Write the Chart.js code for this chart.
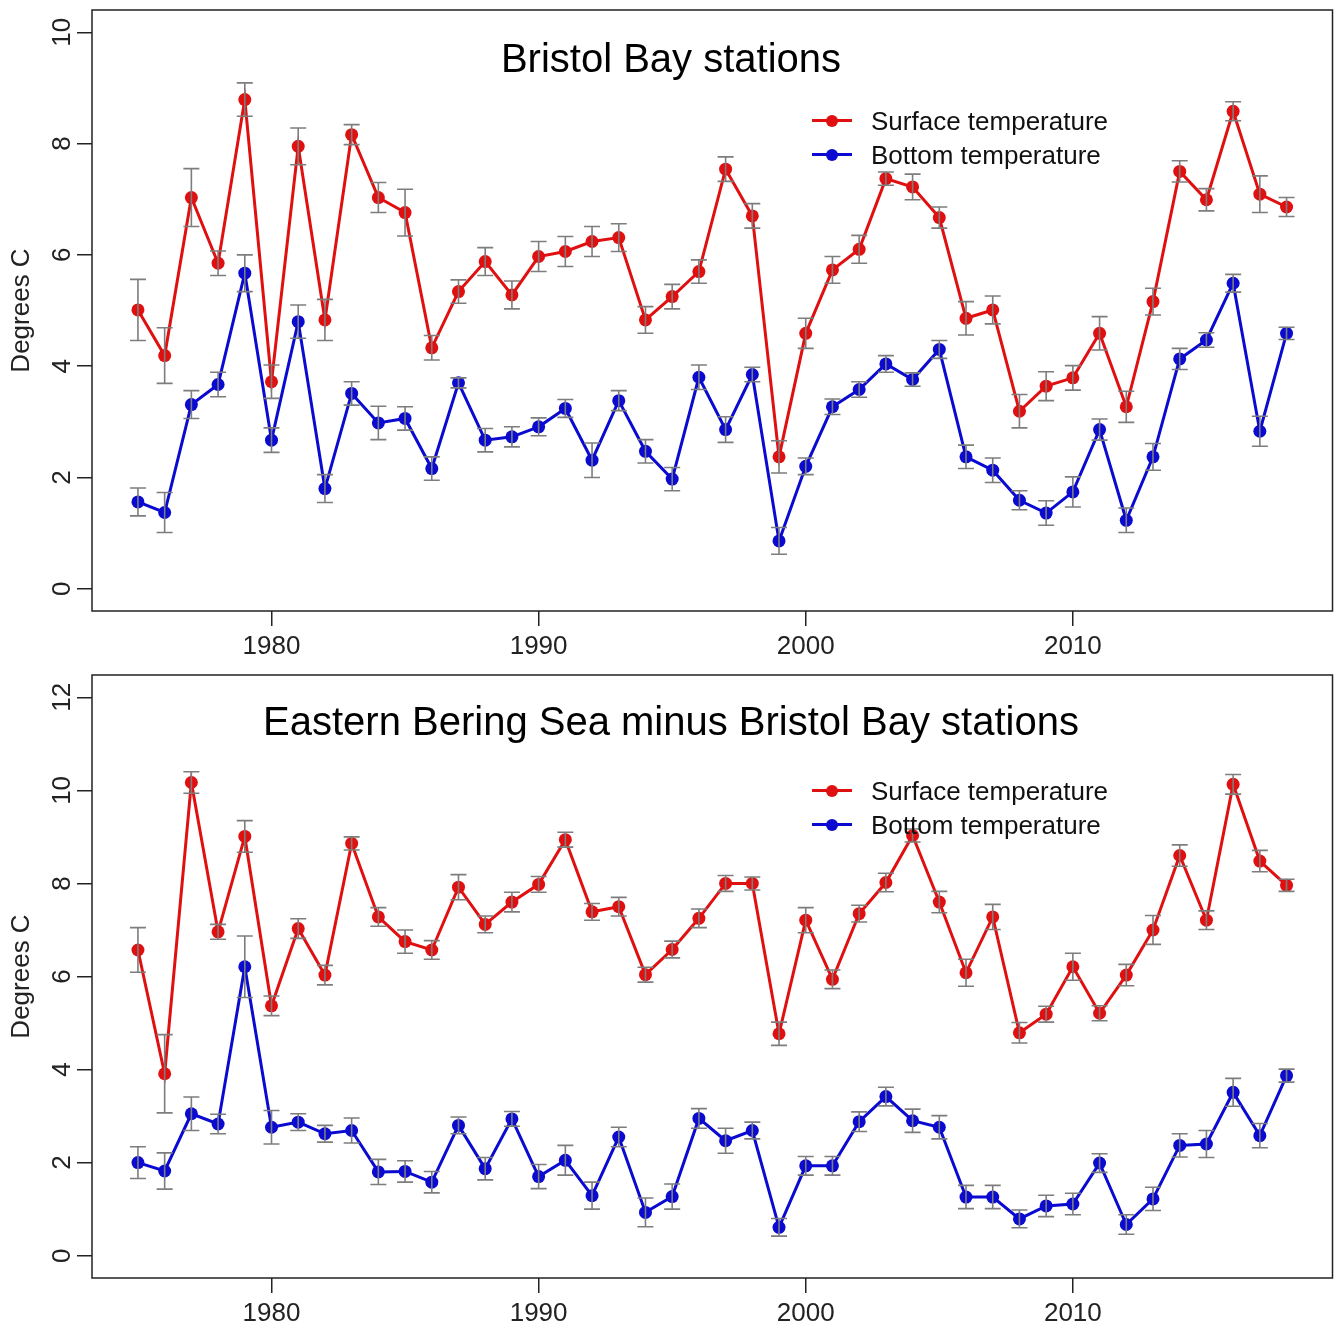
<!DOCTYPE html>
<html><head><meta charset="utf-8">
<script src="https://cdn.jsdelivr.net/npm/chart.js@4.4.1/dist/chart.umd.min.js"></script>
<style>
html,body{margin:0;padding:0;background:#fff;}
#wrap{position:relative;width:1339px;height:1332px;overflow:hidden;font-family:"Liberation Sans",Arial,sans-serif;}
.panel{position:absolute;left:0;width:1339px;height:666px;}
.title{position:absolute;font-size:40px;line-height:40px;white-space:nowrap;transform:translateX(-50%);color:#000;}
.leg{position:absolute;font-size:26px;line-height:26px;white-space:nowrap;color:#111;}
.legline{position:absolute;height:3px;width:40px;}
.legdot{position:absolute;width:12px;height:12px;border-radius:50%;}
</style>
</head><body>
<div id="wrap">
  <canvas id="c1" class="panel" style="top:0" width="1339" height="666"></canvas>
  <canvas id="c2" class="panel" style="top:666px" width="1339" height="666"></canvas>

  <div class="title" style="left:671px;top:37.5px">Bristol Bay stations</div>
  <div class="legline" style="left:812px;top:119px;background:#e01010"></div>
  <div class="legdot" style="left:826px;top:114.5px;background:#e01010"></div>
  <div class="leg" style="left:871px;top:107.5px">Surface temperature</div>
  <div class="legline" style="left:812px;top:153px;background:#0a0ad0"></div>
  <div class="legdot" style="left:826px;top:148.5px;background:#0a0ad0"></div>
  <div class="leg" style="left:871px;top:141.5px">Bottom temperature</div>

  <div class="title" style="left:671px;top:700.5px">Eastern Bering Sea minus Bristol Bay stations</div>
  <div class="legline" style="left:812px;top:789px;background:#e01010"></div>
  <div class="legdot" style="left:826px;top:784.5px;background:#e01010"></div>
  <div class="leg" style="left:871px;top:777.5px">Surface temperature</div>
  <div class="legline" style="left:812px;top:823px;background:#0a0ad0"></div>
  <div class="legdot" style="left:826px;top:818.5px;background:#0a0ad0"></div>
  <div class="leg" style="left:871px;top:811.5px">Bottom temperature</div>
</div>
<script>
const years = [1975,1976,1977,1978,1979,1980,1981,1982,1983,1984,1985,1986,
  1987,1988,1989,1990,1991,1992,1993,1994,1995,1996,1997,1998,
  1999,2000,2001,2002,2003,2004,2005,2006,2007,2008,2009,
  2010,2011,2012,2013,2014,2015,2016,2017,2018];

// Bristol Bay stations
const bbSurface = [5.01,4.19,7.03,5.85,8.79,3.72,7.95,4.83,8.16,7.03,6.76,4.33,
  5.34,5.88,5.28,5.97,6.06,6.24,6.31,4.83,5.25,5.70,7.54,6.70,
  2.37,4.59,5.73,6.10,7.37,7.22,6.67,4.86,5.01,3.19,3.64,
  3.79,4.59,3.27,5.16,7.50,6.99,8.58,7.09,6.86];
const bbSurfaceErr = [0.55,0.50,0.52,0.22,0.30,0.30,0.33,0.37,0.18,0.27,0.42,0.22,
  0.21,0.25,0.25,0.27,0.27,0.27,0.25,0.24,0.22,0.21,0.22,0.22,
  0.29,0.27,0.24,0.25,0.12,0.23,0.19,0.30,0.25,0.30,0.26,
  0.22,0.30,0.28,0.24,0.19,0.20,0.17,0.33,0.17];
const bbBottom = [1.56,1.37,3.31,3.67,5.67,2.67,4.80,1.80,3.51,2.98,3.06,2.16,
  3.70,2.67,2.73,2.91,3.24,2.31,3.38,2.47,1.97,3.80,2.86,3.85,
  0.86,2.20,3.27,3.58,4.04,3.76,4.30,2.37,2.13,1.59,1.36,
  1.74,2.86,1.23,2.37,4.13,4.47,5.49,2.83,4.59];
const bbBottomErr = [0.25,0.36,0.25,0.22,0.33,0.22,0.30,0.25,0.21,0.30,0.21,0.21,
  0.09,0.21,0.18,0.16,0.16,0.31,0.18,0.21,0.21,0.22,0.23,0.13,
  0.24,0.15,0.14,0.14,0.15,0.12,0.16,0.21,0.22,0.17,0.22,
  0.27,0.19,0.22,0.24,0.19,0.13,0.16,0.27,0.11];

// Eastern Bering Sea minus Bristol Bay stations
const ebsSurface = [6.57,3.91,10.17,6.96,9.01,5.37,7.03,6.03,8.86,7.28,6.75,6.57,
  7.92,7.12,7.60,7.98,8.94,7.39,7.50,6.04,6.58,7.25,8.00,8.00,
  4.77,7.21,5.94,7.35,8.02,9.03,7.60,6.08,7.28,4.79,5.19,
  6.21,5.21,6.03,7.00,8.60,7.21,10.13,8.48,7.96];
const ebsSurfaceErr = [0.48,0.84,0.23,0.16,0.34,0.21,0.21,0.21,0.14,0.20,0.25,0.20,
  0.27,0.18,0.21,0.17,0.16,0.18,0.20,0.16,0.18,0.20,0.17,0.14,
  0.25,0.27,0.20,0.18,0.20,0.14,0.23,0.29,0.27,0.22,0.17,
  0.29,0.16,0.23,0.31,0.23,0.20,0.21,0.23,0.13];
const ebsBottom = [2.00,1.82,3.05,2.83,6.21,2.76,2.87,2.62,2.69,1.80,1.81,1.58,
  2.80,1.87,2.94,1.70,2.05,1.29,2.55,0.93,1.27,2.95,2.47,2.69,
  0.61,1.93,1.93,2.88,3.42,2.90,2.76,1.26,1.26,0.79,1.07,
  1.11,1.99,0.67,1.22,2.37,2.40,3.51,2.58,3.87];
const ebsBottomErr = [0.34,0.39,0.36,0.21,0.66,0.36,0.18,0.18,0.27,0.27,0.23,0.23,
  0.18,0.24,0.16,0.26,0.32,0.29,0.21,0.31,0.27,0.21,0.27,0.18,
  0.19,0.20,0.20,0.21,0.20,0.25,0.25,0.25,0.25,0.19,0.23,
  0.23,0.20,0.21,0.25,0.25,0.29,0.30,0.26,0.14];

const xTicks = [1980,1990,2000,2010];
const yTicksTop = [0,2,4,6,8,10];
const yTicksBottom = [0,2,4,6,8,10,12];
const yLimTop = [0,10];
const yLimBottom = [0,12];
const seriesNames = ['Surface temperature','Bottom temperature'];

const RED = '#e01010', BLUE = '#0a0ad0', INK = '#222';
const FONT = '"Liberation Sans", Arial, sans-serif';

const errorBars = {
  id: 'errorBars',
  afterDatasetsDraw(chart) {
    const {ctx, scales: {x, y}} = chart;
    ctx.save();
    ctx.strokeStyle = '#7d7d7d';
    ctx.lineWidth = 1.6;
    chart.data.datasets.forEach(ds => {
      ds.data.forEach((p, i) => {
        const e = ds.err[i];
        const px = x.getPixelForValue(p.x);
        const y1 = y.getPixelForValue(p.y - e);
        const y2 = y.getPixelForValue(p.y + e);
        ctx.beginPath();
        ctx.moveTo(px, y1); ctx.lineTo(px, y2);
        ctx.moveTo(px - 8, y1); ctx.lineTo(px + 8, y1);
        ctx.moveTo(px - 8, y2); ctx.lineTo(px + 8, y2);
        ctx.stroke();
      });
    });
    ctx.restore();
  }
};

const frame = {
  id: 'frame',
  afterDraw(chart) {
    const {ctx, chartArea: a} = chart;
    ctx.save();
    ctx.strokeStyle = INK;
    ctx.lineWidth = 1.5;
    ctx.strokeRect(a.left, a.top, a.right - a.left, a.bottom - a.top);
    ctx.restore();
  }
};

function rlim(lo, hi) { const d = (hi - lo) * 0.04; return [lo - d, hi + d]; }

function makeChart(id, surf, surfErr, bot, botErr, ylim, yTicks, padTop, xHeight) {
  const xl = rlim(years[0], years[years.length - 1]);
  const yl = rlim(ylim[0], ylim[1]);
  const mk = (vals) => years.map((yr, i) => ({x: yr, y: vals[i]}));
  return new Chart(document.getElementById(id), {
    type: 'line',
    data: {
      datasets: [
        {label: seriesNames[0], data: mk(surf), err: surfErr, borderColor: RED, backgroundColor: RED,
         pointBackgroundColor: RED, pointBorderWidth: 0, pointRadius: 6.5, borderWidth: 3, tension: 0},
        {label: seriesNames[1], data: mk(bot), err: botErr, borderColor: BLUE, backgroundColor: BLUE,
         pointBackgroundColor: BLUE, pointBorderWidth: 0, pointRadius: 6.5, borderWidth: 3, tension: 0}
      ]
    },
    options: {
      responsive: false,
      animation: false,
      layout: {padding: {top: padTop, right: 6, left: 0, bottom: 0}},
      plugins: {legend: {display: false}, tooltip: {enabled: false}, title: {display: false}},
      scales: {
        x: {
          type: 'linear', min: xl[0], max: xl[1],
          afterBuildTicks: s => { s.ticks = xTicks.map(v => ({value: v})); },
          afterFit: s => { s.height = xHeight; s.paddingLeft = 0; s.paddingRight = 0; },
          grid: {display: true, drawOnChartArea: false, drawTicks: true, tickLength: 15, color: INK, lineWidth: 1.5},
          border: {display: false},
          ticks: {font: {size: 26, family: FONT}, color: INK, padding: 5, maxRotation: 0, autoSkip: false,
                  callback: v => String(v)}
        },
        y: {
          type: 'linear', min: yl[0], max: yl[1],
          afterBuildTicks: s => { s.ticks = yTicks.map(v => ({value: v})); },
          afterFit: s => { s.width = 92; s.paddingTop = 0; s.paddingBottom = 0; },
          grid: {display: true, drawOnChartArea: false, drawTicks: true, tickLength: 15, color: INK, lineWidth: 1.5},
          border: {display: false},
          ticks: {font: {size: 26, family: FONT}, color: INK, padding: 0, minRotation: 90, maxRotation: 90,
                  crossAlign: 'center', autoSkip: false, callback: v => String(v)},
          title: {display: true, text: 'Degrees C', font: {size: 26, family: FONT}, color: INK, padding: {top: 6, bottom: 0}}
        }
      }
    },
    plugins: [errorBars, frame]
  });
}

makeChart('c1', bbSurface, bbSurfaceErr, bbBottom, bbBottomErr, yLimTop, yTicksTop, 10, 55);
makeChart('c2', ebsSurface, ebsSurfaceErr, ebsBottom, ebsBottomErr, yLimBottom, yTicksBottom, 9, 54);
</script>
</body></html>
